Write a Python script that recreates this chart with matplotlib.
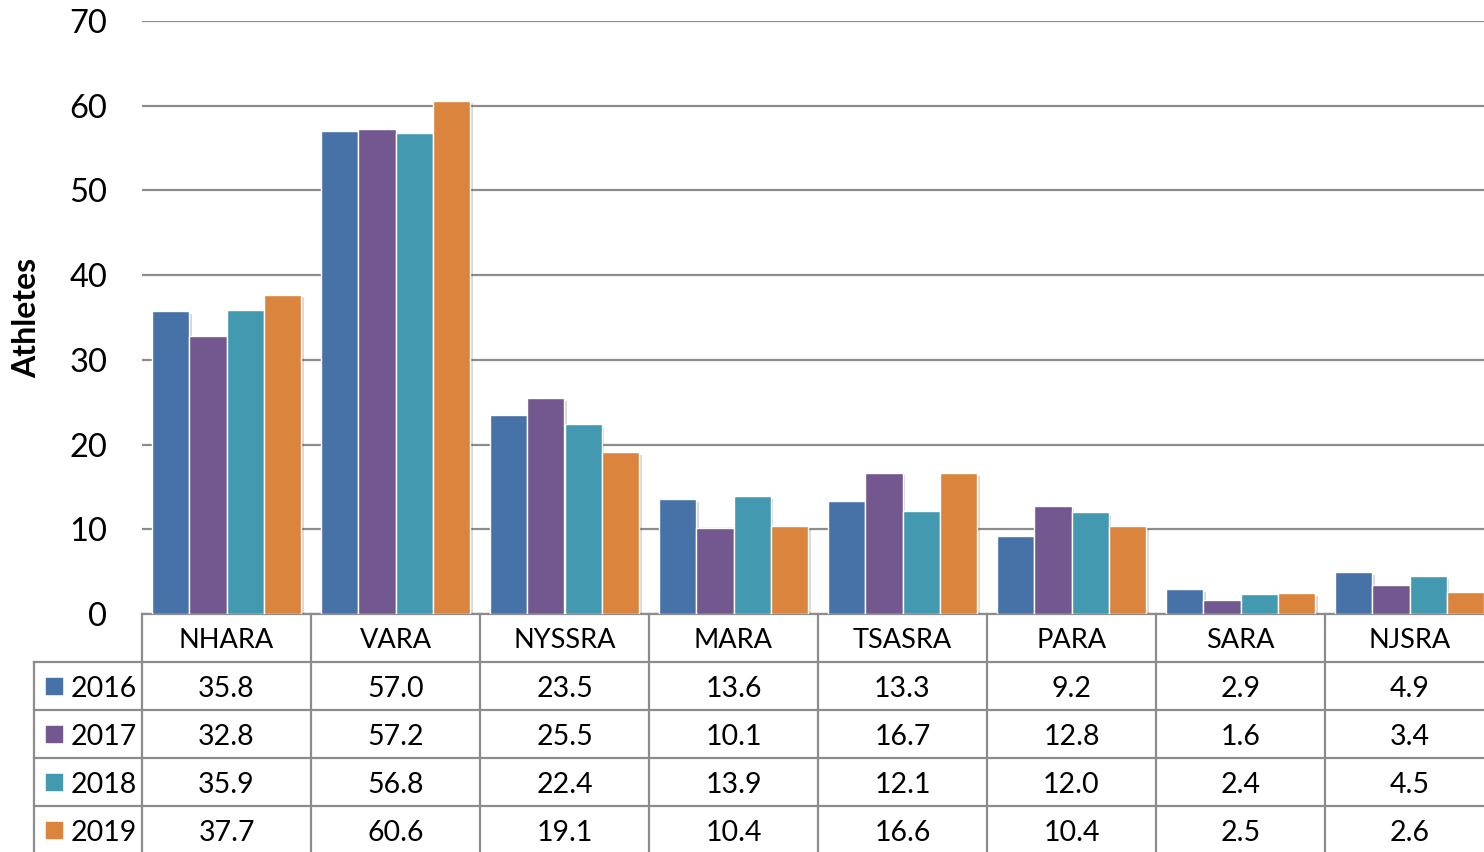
import numpy as np
import matplotlib
matplotlib.use("Agg")
import matplotlib.pyplot as plt
import matplotlib.patheffects as pe

regions = ["NHARA", "VARA", "NYSSRA", "MARA", "TSASRA", "PARA", "SARA", "NJSRA"]
years = ["2016", "2017", "2018", "2019"]
vals_2016 = [35.8, 57.0, 23.5, 13.6, 13.3, 9.2, 2.9, 4.9]
vals_2017 = [32.8, 57.2, 25.5, 10.1, 16.7, 12.8, 1.6, 3.4]
vals_2018 = [35.9, 56.8, 22.4, 13.9, 12.1, 12.0, 2.4, 4.5]
vals_2019 = [37.7, 60.6, 19.1, 10.4, 16.6, 10.4, 2.5, 2.6]
series = [vals_2016, vals_2017, vals_2018, vals_2019]
colors = ["#4672A7", "#72588E", "#4299B0", "#DB843D"]

plt.rcParams['font.family'] = ['Lato', 'DejaVu Sans']

W, H = 1484, 852
fig = plt.figure(figsize=(W / 100, H / 100), dpi=100)

# pixel layout
x0, x1 = 142, 1494
y_top, y_zero = 21, 614
row_h = 48

ax = fig.add_axes([x0 / W, 1 - y_zero / H, (x1 - x0) / W, (y_zero - y_top) / H])
x = np.arange(len(regions))
bw = 0.22
offsets = [-0.33, -0.11, 0.11, 0.33]
shadow = [pe.SimplePatchShadow(offset=(2, -2), alpha=0.18), pe.Normal()]
for vals, off, col in zip(series, offsets, colors):
    bars = ax.bar(x + off, vals, width=bw, color=col, edgecolor="white",
                  linewidth=1, zorder=3)
    for b in bars:
        b.set_path_effects(shadow)

ax.set_xlim(-0.5, len(regions) - 0.5)
ax.set_ylim(0, 70)
ax.set_yticks(range(0, 71, 10))
ax.grid(axis="y", color="#8c8c8c", linewidth=1.6, zorder=0)
ax.set_axisbelow(True)
for s in ["left", "right", "top"]:
    ax.spines[s].set_visible(False)
ax.spines["bottom"].set_color("#8c8c8c")
ax.spines["bottom"].set_linewidth(1.6)
ax.set_xticks([])
ax.tick_params(axis="y", length=0, pad=25, labelsize=23.5)
ax.set_ylabel("Athletes", fontsize=23, fontweight="bold", labelpad=20)

# data table under the chart
n_rows = len(years) + 1
tab = fig.add_axes([x0 / W, 1 - (y_zero + n_rows * row_h) / H,
                    (x1 - x0) / W, n_rows * row_h / H])
tab.set_xlim(-0.5, len(regions) - 0.5)
tab.set_ylim(n_rows, 0)
tab.axis("off")
left_edge = -0.5 - (x0 - 34) / 169.0
lc = "#8c8c8c"
lw = 1.6
for r in range(1, n_rows):
    tab.plot([left_edge, len(regions) - 0.5], [r, r], color=lc, lw=lw, clip_on=False)
tab.plot([left_edge, left_edge], [1, n_rows], color=lc, lw=lw, clip_on=False)
for c in range(len(regions)):
    tab.plot([c - 0.5, c - 0.5], [0, n_rows], color=lc, lw=lw, clip_on=False)

ty = 0.56
for c, name in enumerate(regions):
    tab.text(c, ty, name, ha="center", va="center", fontsize=19.5)
for r, (yr, vals, col) in enumerate(zip(years, series, colors), start=1):
    tab.scatter([left_edge + 0.12], [r + 0.5], marker="s", s=140, color=col,
                clip_on=False)
    tab.text(left_edge + 0.215, r + ty, yr, ha="left", va="center", fontsize=20.5)
    for c, v in enumerate(vals):
        tab.text(c, r + ty, f"{v:.1f}", ha="center", va="center", fontsize=20.5)

fig.savefig("out.png", dpi=100)
